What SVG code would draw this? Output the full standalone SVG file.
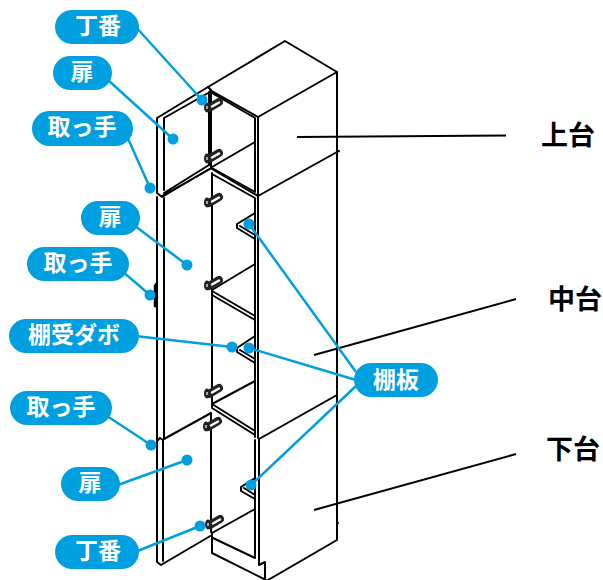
<svg xmlns="http://www.w3.org/2000/svg" width="603" height="580" viewBox="0 0 603 580">
<style>
.d{fill:none;stroke:#000;stroke-width:2;stroke-linejoin:round;stroke-linecap:round}
.c{fill:none;stroke:#00a0e0;stroke-width:2.500}
.e{fill:#00a0e0;stroke:none}
.p{fill:#00a0e0;stroke:none}
.t{font-family:"Noto Sans CJK JP","Liberation Sans",sans-serif;font-size:23px;font-weight:700;fill:#fff;text-anchor:middle}
.k{font-family:"Noto Sans CJK JP","Liberation Sans",sans-serif;font-size:27px;font-weight:700;fill:#000;text-anchor:middle}
.b{fill:none;stroke:#000;stroke-width:2}
</style>
<defs>
<g id="hinge"><ellipse cx="-5" cy="2.500" rx="3" ry="5" fill="#222"/><path d="M-3 3 L7 -3" stroke="#222" stroke-width="8" stroke-linecap="round"/><path d="M0 1.500 L7 -2.500" stroke="#fff" stroke-width="2.500" stroke-linecap="round"/><path d="M-5 1 L-5 4" stroke="#fff" stroke-width="1.200"/></g>
</defs>
<g id="cabinet">
<path class="d" d="M208 87 L285 41 L337 72 L337 540 L268 580"/>
<path class="d" d="M258 117 L337 72 M258 117 L258 196 M258 196 L337 152"/>
<path class="d" d="M210 90 L258 117 M212 93 L255 118 L255 192 L212 168"/>
<path class="d" d="M212 167 L255 142"/>
<path class="d" d="M212 169 L258 196 M212 174 L255 198 L255 437 M258 196 L258 438"/>
<path class="d" d="M259 439 L337 395 M259 439 L259 565 L265 562 L265 580"/>
<path class="d" d="M212 291 L255 316 M212 295 L255 320"/>
<path class="d" d="M212 290 L255 264 M212 404 L255 381"/>
<path class="d" d="M212 404 L255 431 M212 408 L255 435"/>
<path class="d" d="M212 173 L212 407"/>
<path class="d" d="M255 440 L255 558 L213 538 M212 533 L212 553 L266 580"/>
<path class="d" d="M212 533 L255 509"/>
<path class="d" d="M337 152 L339 151 M337 523 L338 523"/>
</g>
<g id="door-top">
<path class="d" d="M157 118 L208 87 L211 90 L211 168 L162 197 L157 193 Z"/>
<path class="d" d="M164 118 L210 92 M164 118 L164 190 M164 193 L209 165 M162 196 L210 169"/>
<path class="d" d="M209 92 L209 165" stroke-width="3"/>
</g>
<g id="door-middle">
<path class="d" d="M157 197 L157 440 M164 198 L164 438"/>
<path d="M157 283 L155 286 L155 306 L157 307" fill="none" stroke="#000" stroke-width="2.500"/>
<path class="d" d="M164 439 L211 413"/>
</g>
<g id="door-bottom">
<path class="d" d="M157 441 L157 562 L161 565 L212 535 M163 440 L163 561 M157 441 L160 438 L163 440"/>
<path class="d" d="M211 414 L211 532" stroke-width="3.500"/>
</g>
<g id="hinges">
<use href="#hinge" x="212" y="105"/><use href="#hinge" x="212" y="156"/><use href="#hinge" x="212" y="200"/><use href="#hinge" x="212" y="283"/><use href="#hinge" x="212" y="391"/><use href="#hinge" x="211" y="424"/><use href="#hinge" x="213" y="522"/>
</g>
<g id="shelf-pegs" class="d">
<path d="M237 224 L255 213 M237 224 L237 228 L255 239 M240 226 L255 235"/>
<path d="M237 348 L255 336 M237 348 L237 352 L255 363 M240 350 L255 359"/>
<path d="M241 487 L255 478 M241 487 L241 491 L255 499 M244 488 L255 495"/>
</g>
<g id="connectors">
<path class="b" d="M297 137 L506 135.500 M314 355 L516 299 M314 510 L516 454"/>
<path class="c" d="M135 26 L202 100 M108 80 L173 139 M126 134 L150 188 M135 226 L187 265 M122 271 L150 295 M135 336 L232 347 M107 416 L151 445 M115 486 L187 460 M135 552 L200 526 M356 372 L249 224 M356 380 L249 348 M356 386 L251 485"/>
<circle class="e" cx="202" cy="100" r="5.500"/><circle class="e" cx="173" cy="139" r="5.500"/><circle class="e" cx="150" cy="188" r="5.500"/><circle class="e" cx="187" cy="265" r="5.500"/><circle class="e" cx="150" cy="295" r="5.500"/><circle class="e" cx="232" cy="347" r="5.500"/><circle class="e" cx="249" cy="224" r="5.500"/><circle class="e" cx="249" cy="348" r="5.500"/><circle class="e" cx="151" cy="445" r="5.500"/><circle class="e" cx="187" cy="460" r="5.500"/><circle class="e" cx="200" cy="526" r="5.500"/><circle class="e" cx="251" cy="485" r="5.500"/>
</g>
<g id="label-hinge-top"><rect class="p" x="55" y="10" width="84" height="34" rx="17"/><text class="t" x="98" y="34">丁番</text></g>
<g id="label-door-1"><rect class="p" x="53" y="56" width="59" height="34" rx="17"/><text class="t" x="82" y="80">扉</text></g>
<g id="label-handle-1"><rect class="p" x="32" y="111" width="101" height="35" rx="17.500"/><text class="t" x="82" y="135">取っ手</text></g>
<g id="label-door-2"><rect class="p" x="81" y="201" width="59" height="34" rx="17"/><text class="t" x="110" y="225">扉</text></g>
<g id="label-handle-2"><rect class="p" x="27" y="247" width="102" height="34" rx="17"/><text class="t" x="78" y="271">取っ手</text></g>
<g id="label-peg"><rect class="p" x="9" y="319" width="130" height="34" rx="17"/><text class="t" x="74" y="343">棚受ダボ</text></g>
<g id="label-handle-3"><rect class="p" x="10" y="391" width="102" height="34" rx="17"/><text class="t" x="61" y="415">取っ手</text></g>
<g id="label-door-3"><rect class="p" x="61" y="467" width="59" height="34" rx="17"/><text class="t" x="90" y="491">扉</text></g>
<g id="label-hinge-bottom"><rect class="p" x="55" y="535" width="84" height="34" rx="17"/><text class="t" x="98" y="559">丁番</text></g>
<g id="label-shelf"><rect class="p" x="354" y="363" width="84" height="34" rx="17"/><text class="t" x="396" y="388">棚板</text></g>
<g id="label-upper"><text class="k" x="568" y="145">上台</text></g>
<g id="label-middle"><text class="k" x="575" y="309">中台</text></g>
<g id="label-lower"><text class="k" x="573" y="459">下台</text></g>
</svg>
